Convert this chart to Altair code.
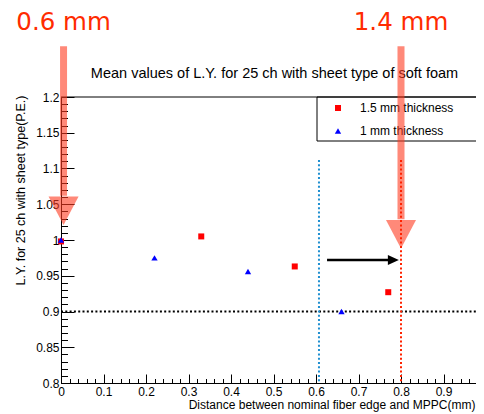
import altair as alt
import pandas as pd

# ---------------- data ----------------
thick15_x = [0.0, 0.33, 0.55, 0.77]
thick15_y = [0.998, 1.005, 0.963, 0.927]
thick10_x = [0.0, 0.22, 0.44, 0.66]
thick10_y = [1.0, 0.975, 0.956, 0.900]
series_names = ["1.5 mm thickness", "1 mm thickness"]
series_colors = ["#ff0000", "#0000ff"]

x_major = [0.0, 0.1, 0.2, 0.3, 0.4, 0.5, 0.6, 0.7, 0.8, 0.9]
y_major = [0.8, 0.85, 0.9, 0.95, 1.0, 1.05, 1.1, 1.15, 1.2]
x_minor = [round(i * 0.02, 2) for i in range(0, 50)]
y_minor = [round(0.8 + i * 0.01, 2) for i in range(0, 41)]

ref_line_y = [0.9]
blue_line_x = [0.607]
red_line_x = [0.8]
vline_top_y = [1.112]

arrow_labels = ["0.6 mm", "1.4 mm"]
arrow_x = [0.006, 0.8]
arrow_label_y = [1.294, 1.294]
arrow_top_y = [1.271, 1.271]
arrow_shaft_end_y = [1.062, 1.029]
arrow_head_y = [1.041, 1.008]

shift_arrow_x = [0.626]
shift_arrow_x2 = [0.782]
shift_arrow_y = [0.972]

title_text = "Mean values of L.Y. for 25 ch with sheet type of soft foam"
x_title = "Distance between nominal fiber edge and MPPC(mm)"
y_title = "L.Y. for 25 ch with sheet type(P.E.)"

# ---------------- layout ----------------
W, H = 415, 286
FONT = "Liberation Sans"
xs = alt.Scale(domain=[0, 0.97647], nice=False, zero=False)
ys = alt.Scale(domain=[0.8, 1.2], nice=False, zero=False)


def qx(field, axis=None):
    return alt.X(field, type="quantitative", scale=xs, axis=axis)


def qy(field, axis=None):
    return alt.Y(field, type="quantitative", scale=ys, axis=axis)


df15 = pd.DataFrame({"x": thick15_x, "y": thick15_y})
df10 = pd.DataFrame({"x": thick10_x, "y": thick10_y})
one = pd.DataFrame({"x": [0.0], "y": [0.8]})

# axes: labels / titles
x_label_axis = alt.Axis(
    orient="bottom", values=x_major, format="~g", ticks=False, tickSize=0,
    domain=True, domainColor="black", domainWidth=1, grid=False,
    labelFont=FONT, labelFontSize=12, labelColor="black", labelPadding=3,
    labelFlush=False, labelOverlap=False,
    title=x_title, titleFont=FONT, titleFontSize=12, titleFontWeight="normal",
    titleColor="black", titleX=W - 1, titleY=25, titleAlign="right",
    titleBaseline="alphabetic", titleAnchor="end",
)
y_label_axis = alt.Axis(
    orient="left", values=y_major, format="~g", ticks=False, tickSize=0,
    domain=True, domainColor="black", domainWidth=1, grid=False,
    labelFont=FONT, labelFontSize=12, labelColor="black", labelPadding=2,
    labelFlush=False, labelOverlap=False,
    title=y_title, titleFont=FONT, titleFontSize=12.5, titleFontWeight="normal",
    titleColor="black", titleAngle=270, titleX=-41, titleY=-2,
    titleAlign="right", titleBaseline="middle",
)


def tick_axis(orient, values, size, offset):
    return alt.Axis(
        orient=orient, values=values, offset=offset, ticks=True, tickSize=size,
        tickColor="black", tickWidth=1, labels=False, domain=False, grid=False,
        title=None,
    )


major_ticks = alt.Chart(one).mark_point(opacity=0).encode(
    x=qx("x", tick_axis("top", x_major, 9, -H)),
    y=qy("y", tick_axis("right", y_major, 13, -W)),
)
minor_ticks = alt.Chart(one).mark_point(opacity=0).encode(
    x=qx("x", tick_axis("top", x_minor, 4.5, -H)),
    y=qy("y", tick_axis("right", y_minor, 6.5, -W)),
)

# frame top line
top_line = alt.Chart(pd.DataFrame({"y": [1.2]})).mark_rule(color="black", strokeWidth=1).encode(
    y=qy("y"), x=alt.value(0), x2=alt.value(W)
)

# legend box
legend_box = alt.Chart(one).mark_rect(fill="white", stroke="black", strokeWidth=1).encode(
    x=alt.value(256), x2=alt.value(W + 30), y=alt.value(0), y2=alt.value(44)
)

# dotted lines
hline = alt.Chart(pd.DataFrame({"y": ref_line_y})).mark_rule(
    color="black", strokeWidth=2, strokeDash=[2, 2.3]
).encode(y=qy("y"), x=alt.value(0), x2=alt.value(W))

blue_vline = alt.Chart(pd.DataFrame({"x": blue_line_x, "y": vline_top_y, "y2": [0.8]})).mark_rule(
    color="#1f8fd0", strokeWidth=2, strokeDash=[2, 2.3]
).encode(x=qx("x"), y=qy("y"), y2="y2:Q")

red_vline = alt.Chart(pd.DataFrame({"x": red_line_x, "y": vline_top_y, "y2": [0.8]})).mark_rule(
    color="#ff2200", strokeWidth=2, strokeDash=[2, 2.3]
).encode(x=qx("x"), y=qy("y"), y2="y2:Q")

# data points
pts15 = alt.Chart(df15).mark_point(
    shape="square", size=36, filled=True, color=series_colors[0], opacity=1, strokeWidth=0
).encode(x=qx("x", x_label_axis), y=qy("y", y_label_axis))
pts10 = alt.Chart(df10).mark_point(
    shape="triangle-up", size=40, filled=True, color=series_colors[1], opacity=1, strokeWidth=0
).encode(x=qx("x"), y=qy("y"))

# black arrow
sa_df = pd.DataFrame({"x": shift_arrow_x, "x2": shift_arrow_x2, "y": shift_arrow_y})
shift_shaft = alt.Chart(sa_df).mark_rule(color="black", strokeWidth=2.5).encode(
    x=qx("x"), x2="x2:Q", y=qy("y")
)
shift_head = alt.Chart(sa_df).mark_point(
    shape="M-1,-0.9L1,0L-1,0.9Z", size=121, filled=True, color="black", opacity=1, strokeWidth=0
).encode(x=qx("x2"), y=qy("y"))

# title
title = alt.Chart(one).mark_text(
    text=title_text, font=FONT, fontSize=14.5, color="black", align="center", baseline="alphabetic"
).encode(x=alt.value(213.5), y=alt.value(-19.5))

# legend entries
leg_sym1 = alt.Chart(one).mark_point(
    shape="square", size=36, filled=True, color=series_colors[0], opacity=1, strokeWidth=0
).encode(x=alt.value(277), y=alt.value(11))
leg_sym2 = alt.Chart(one).mark_point(
    shape="triangle-up", size=40, filled=True, color=series_colors[1], opacity=1, strokeWidth=0
).encode(x=alt.value(277), y=alt.value(34))
leg_txt1 = alt.Chart(one).mark_text(
    text=series_names[0], font=FONT, fontSize=12, color="black", align="left", baseline="middle"
).encode(x=alt.value(299), y=alt.value(11))
leg_txt2 = alt.Chart(one).mark_text(
    text=series_names[1], font=FONT, fontSize=12, color="black", align="left", baseline="middle"
).encode(x=alt.value(299), y=alt.value(34))

# salmon annotation arrows
ann = pd.DataFrame({
    "x": arrow_x, "top": arrow_top_y, "end": arrow_shaft_end_y, "head": arrow_head_y,
    "ly": arrow_label_y, "label": arrow_labels,
})
ann_shaft = alt.Chart(ann).mark_rule(color="#ff3a20", opacity=0.6, strokeWidth=7, strokeCap="butt").encode(
    x=qx("x"), y=qy("top"), y2="end:Q"
)
ann_head = alt.Chart(ann).mark_point(
    shape="M-1,-0.95L1,-0.95L0,0.95Z", size=900, filled=True, color="#ff3a20", opacity=0.6, strokeWidth=0
).encode(x=qx("x"), y=qy("head"))
ann_text = alt.Chart(ann).mark_text(
    font="DejaVu Sans", fontSize=24.5, fontWeight=500, color="#ff2b00", align="center", baseline="alphabetic"
).encode(x=qx("x"), y=qy("ly"), text="label:N")

chart = alt.layer(
    legend_box, top_line, hline, blue_vline, pts15, pts10, shift_shaft, shift_head,
    title, leg_sym1, leg_sym2, leg_txt1, leg_txt2,
    ann_shaft, ann_head, red_vline, ann_text,
    minor_ticks, major_ticks,
).resolve_axis(x="independent", y="independent").properties(
    width=W, height=H,
    padding={"left": 53, "top": 89, "right": 0, "bottom": 30},
    autosize=alt.AutoSizeParams(type="none"),
).configure_view(stroke=None)

chart.save("out.html", embed_options={"renderer": "svg", "actions": False})
